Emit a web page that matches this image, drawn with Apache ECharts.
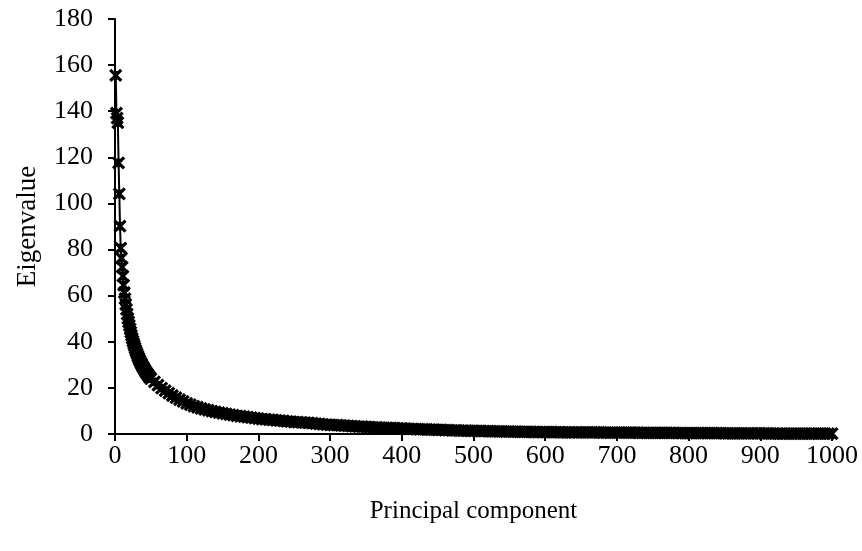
<!DOCTYPE html>
<html>
<head>
<meta charset="utf-8">
<script src="https://cdn.jsdelivr.net/npm/echarts@6/dist/echarts.min.js"></script>
<style>
html,body{margin:0;padding:0;background:#fff;}
#chart{width:862px;height:551px;}
</style>
</head>
<body>
<div id="chart"></div>
<script>
// eigenvalues
// components 1..50, one by one
var eigenFirst = [
  155.5,139.2,137.0,135.1,117.6,104.1,90.2,80.6,76.3,72.4,68.5,64.6,61.3,58.7,56.2,54.1,52.0,50.2,48.6,47.1,
  45.6,44.2,42.8,41.5,40.3,39.2,38.2,37.2,36.3,35.4,34.6,33.8,33.0,32.3,31.6,30.9,30.3,29.7,29.1,28.6,
  28.0,27.5,27.0,26.5,26.1,25.6,25.2,24.8,24.4,24.0
];
// components 55..1000, every 5th
var eigenEvery5 = [
  22.6,21.2,19.9,18.8,17.7,16.7,15.8,14.9,14.1,13.3,
  12.7,12.1,11.6,11.1,10.7,10.3,9.9,9.6,9.3,9.0,
  8.7,8.4,8.2,7.9,7.7,7.5,7.3,7.1,6.9,6.7,
  6.5,6.4,6.2,6.1,5.9,5.8,5.7,5.5,5.4,5.2,
  5.1,5.0,4.9,4.8,4.7,4.5,4.4,4.2,4.1,4.0,
  3.9,3.8,3.7,3.6,3.5,3.4,3.3,3.2,3.15,3.1,
  3.0,2.9,2.85,2.8,2.7,2.65,2.6,2.5,2.45,2.4,
  2.3,2.25,2.2,2.1,2.05,2.0,1.95,1.9,1.85,1.8,
  1.75,1.7,1.65,1.6,1.55,1.5,1.48,1.45,1.4,1.35,
  1.32,1.3,1.25,1.2,1.18,1.15,1.12,1.1,1.07,1.05,
  1.02,1.0,0.97,0.95,0.92,0.9,0.87,0.85,0.82,0.8,
  0.79,0.78,0.77,0.76,0.75,0.74,0.73,0.72,0.71,0.7,
  0.69,0.68,0.67,0.66,0.65,0.64,0.63,0.62,0.61,0.6,
  0.59,0.58,0.57,0.56,0.55,0.54,0.53,0.52,0.51,0.5,
  0.49,0.48,0.47,0.46,0.45,0.44,0.43,0.42,0.41,0.4,
  0.39,0.38,0.37,0.37,0.36,0.35,0.34,0.33,0.33,0.32,
  0.31,0.3,0.29,0.28,0.28,0.27,0.26,0.25,0.24,0.24,
  0.23,0.22,0.21,0.21,0.2,0.2,0.19,0.19,0.18,0.18,
  0.17,0.17,0.16,0.16,0.16,0.15,0.15,0.15,0.14,0.14
];
var yTicks = {min: 0, max: 180, step: 20};
var xTicks = {min: 0, max: 1000, step: 100};

var points = [];
for (var i = 0; i < eigenFirst.length; i++) {
  points.push([i + 1, eigenFirst[i]]);
}
for (var j = 0; j < eigenEvery5.length; j++) {
  points.push([55 + j * 5, eigenEvery5[j]]);
}

var serif = "'Liberation Serif', 'Times New Roman', serif";

var option = {
  animation: false,
  backgroundColor: '#fff',
  grid: {left: 115, right: 30, top: 19, bottom: 117},
  xAxis: {
    type: 'value',
    min: xTicks.min, max: xTicks.max, interval: xTicks.step,
    name: 'Principal component',
    nameLocation: 'middle',
    nameGap: 65,
    nameTextStyle: {fontFamily: serif, fontSize: 25, color: '#000'},
    axisLine: {lineStyle: {color: '#000', width: 2}},
    axisTick: {show: true, length: 7, lineStyle: {color: '#000', width: 2}},
    axisLabel: {fontFamily: serif, fontSize: 26, color: '#000', margin: 9,
      formatter: function (v) { return String(v); }},
    splitLine: {show: false}
  },
  yAxis: {
    type: 'value',
    min: yTicks.min, max: yTicks.max, interval: yTicks.step,
    name: 'Eigenvalue',
    nameLocation: 'middle',
    nameGap: 74,
    nameTextStyle: {fontFamily: serif, fontSize: 27, color: '#000'},
    axisLine: {show: true, lineStyle: {color: '#000', width: 2}},
    axisTick: {show: true, length: 7, lineStyle: {color: '#000', width: 2}},
    axisLabel: {fontFamily: serif, fontSize: 26, color: '#000', margin: 22},
    splitLine: {show: false}
  },
  series: [{
    type: 'line',
    data: points,
    symbol: 'path://M0,0L10,10M10,0L0,10M5,1L5,9',
    symbolSize: 11,
    showAllSymbol: true,
    itemStyle: {color: '#000', borderColor: '#000', borderWidth: 3.2},
    lineStyle: {color: '#000', width: 2}
  }]
};

var myChart = echarts.init(document.getElementById('chart'));
option && myChart.setOption(option);
</script>
</body>
</html>
